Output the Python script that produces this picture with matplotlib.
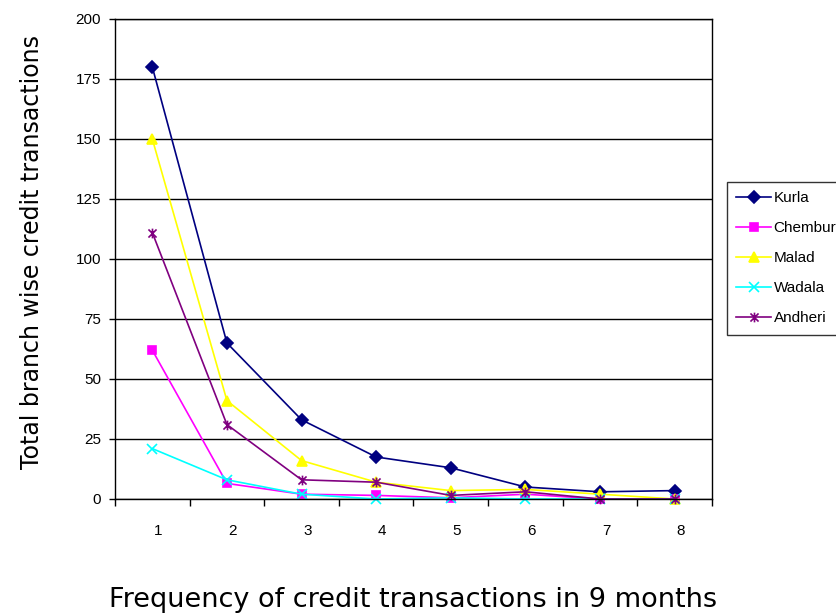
import matplotlib
matplotlib.use("Agg")
import matplotlib.pyplot as plt
from matplotlib.path import Path
from matplotlib.ticker import MultipleLocator, FixedLocator
from matplotlib.transforms import ScaledTranslation

categories = [1, 2, 3, 4, 5, 6, 7, 8]
kurla = [180, 65, 33, 17.5, 13, 5, 3, 3.5]
chembur = [62, 6.5, 2, 1.5, 0.5, 2, 0, 0]
malad = [150, 41, 16, 7, 3.5, 4, 2, 0]
wadala = [21, 8, 2, 0, 0.5, 0, 0, 0]
andheri = [111, 31, 8, 7, 1.5, 3, 0, 0]

# asterisk marker: an x with a vertical stroke
star = Path(
    [(-1, -1), (1, 1), (-1, 1), (1, -1), (0, -1.2), (0, 1.2)],
    [Path.MOVETO, Path.LINETO, Path.MOVETO, Path.LINETO, Path.MOVETO, Path.LINETO],
)

series = [
    ("Kurla", kurla, "#000080", "D", 6),
    ("Chembur", chembur, "#FF00FF", "s", 6),
    ("Malad", malad, "#FFFF00", "^", 7),
    ("Wadala", wadala, "#00FFFF", "x", 7),
    ("Andheri", andheri, "#800080", star, 7),
]

plt.rcParams["font.family"] = ["Liberation Sans", "DejaVu Sans"]

fig = plt.figure(figsize=(8.37, 6.15), dpi=100)
ax = fig.add_axes([115 / 837, 1 - 499 / 615, 597 / 837, 480 / 615])

for name, vals, color, mk, ms in series:
    ax.plot(categories, vals, color=color, marker=mk, markersize=ms,
            markeredgecolor=color, markerfacecolor=color,
            markeredgewidth=1.2, linewidth=1.2, label=name, clip_on=False)

ax.set_xlim(0.5, 8.5)
ax.set_ylim(0, 200)
ax.yaxis.set_major_locator(MultipleLocator(25))
ax.xaxis.set_major_locator(FixedLocator([c - 0.5 for c in categories] + [8.5]))
ax.xaxis.set_minor_locator(FixedLocator(categories))
ax.set_xticklabels([])
ax.set_xticklabels([str(c) for c in categories], minor=True)
ax.tick_params(axis="x", which="major", direction="out", length=5, width=1, color="#000000")
ax.tick_params(axis="x", which="minor", length=0, pad=18, labelsize=11)
ax.tick_params(axis="y", direction="out", length=4, width=1, labelsize=11, pad=6)

# category labels sit a few pixels right of their category centres
shift = ScaledTranslation(6 / 100, 0, fig.dpi_scale_trans)
for lbl in ax.xaxis.get_minorticklabels():
    lbl.set_transform(lbl.get_transform() + shift)

ax.grid(axis="y", color="#000000", linewidth=1)
ax.set_axisbelow(True)
for s in ax.spines.values():
    s.set_color("#000000")
    s.set_linewidth(1)

fig.text(413 / 837, 1 - 600 / 615, "Frequency of credit transactions in 9 months",
         ha="center", va="center", fontsize=19.5, family="DejaVu Sans")
fig.text(32 / 837, 1 - 252 / 615, "Total branch wise credit transactions",
         ha="center", va="center", rotation=90, fontsize=17, family="DejaVu Sans")

leg = fig.legend(loc="upper left", bbox_to_anchor=(727 / 837, 1 - 182 / 615),
                 frameon=True, fancybox=False, fontsize=11, handlelength=2.3,
                 handletextpad=0.15, borderpad=0.6, labelspacing=1.05,
                 borderaxespad=0)
leg.get_frame().set_edgecolor("#000000")
leg.get_frame().set_linewidth(1)

fig.savefig("out.png", dpi=100)
